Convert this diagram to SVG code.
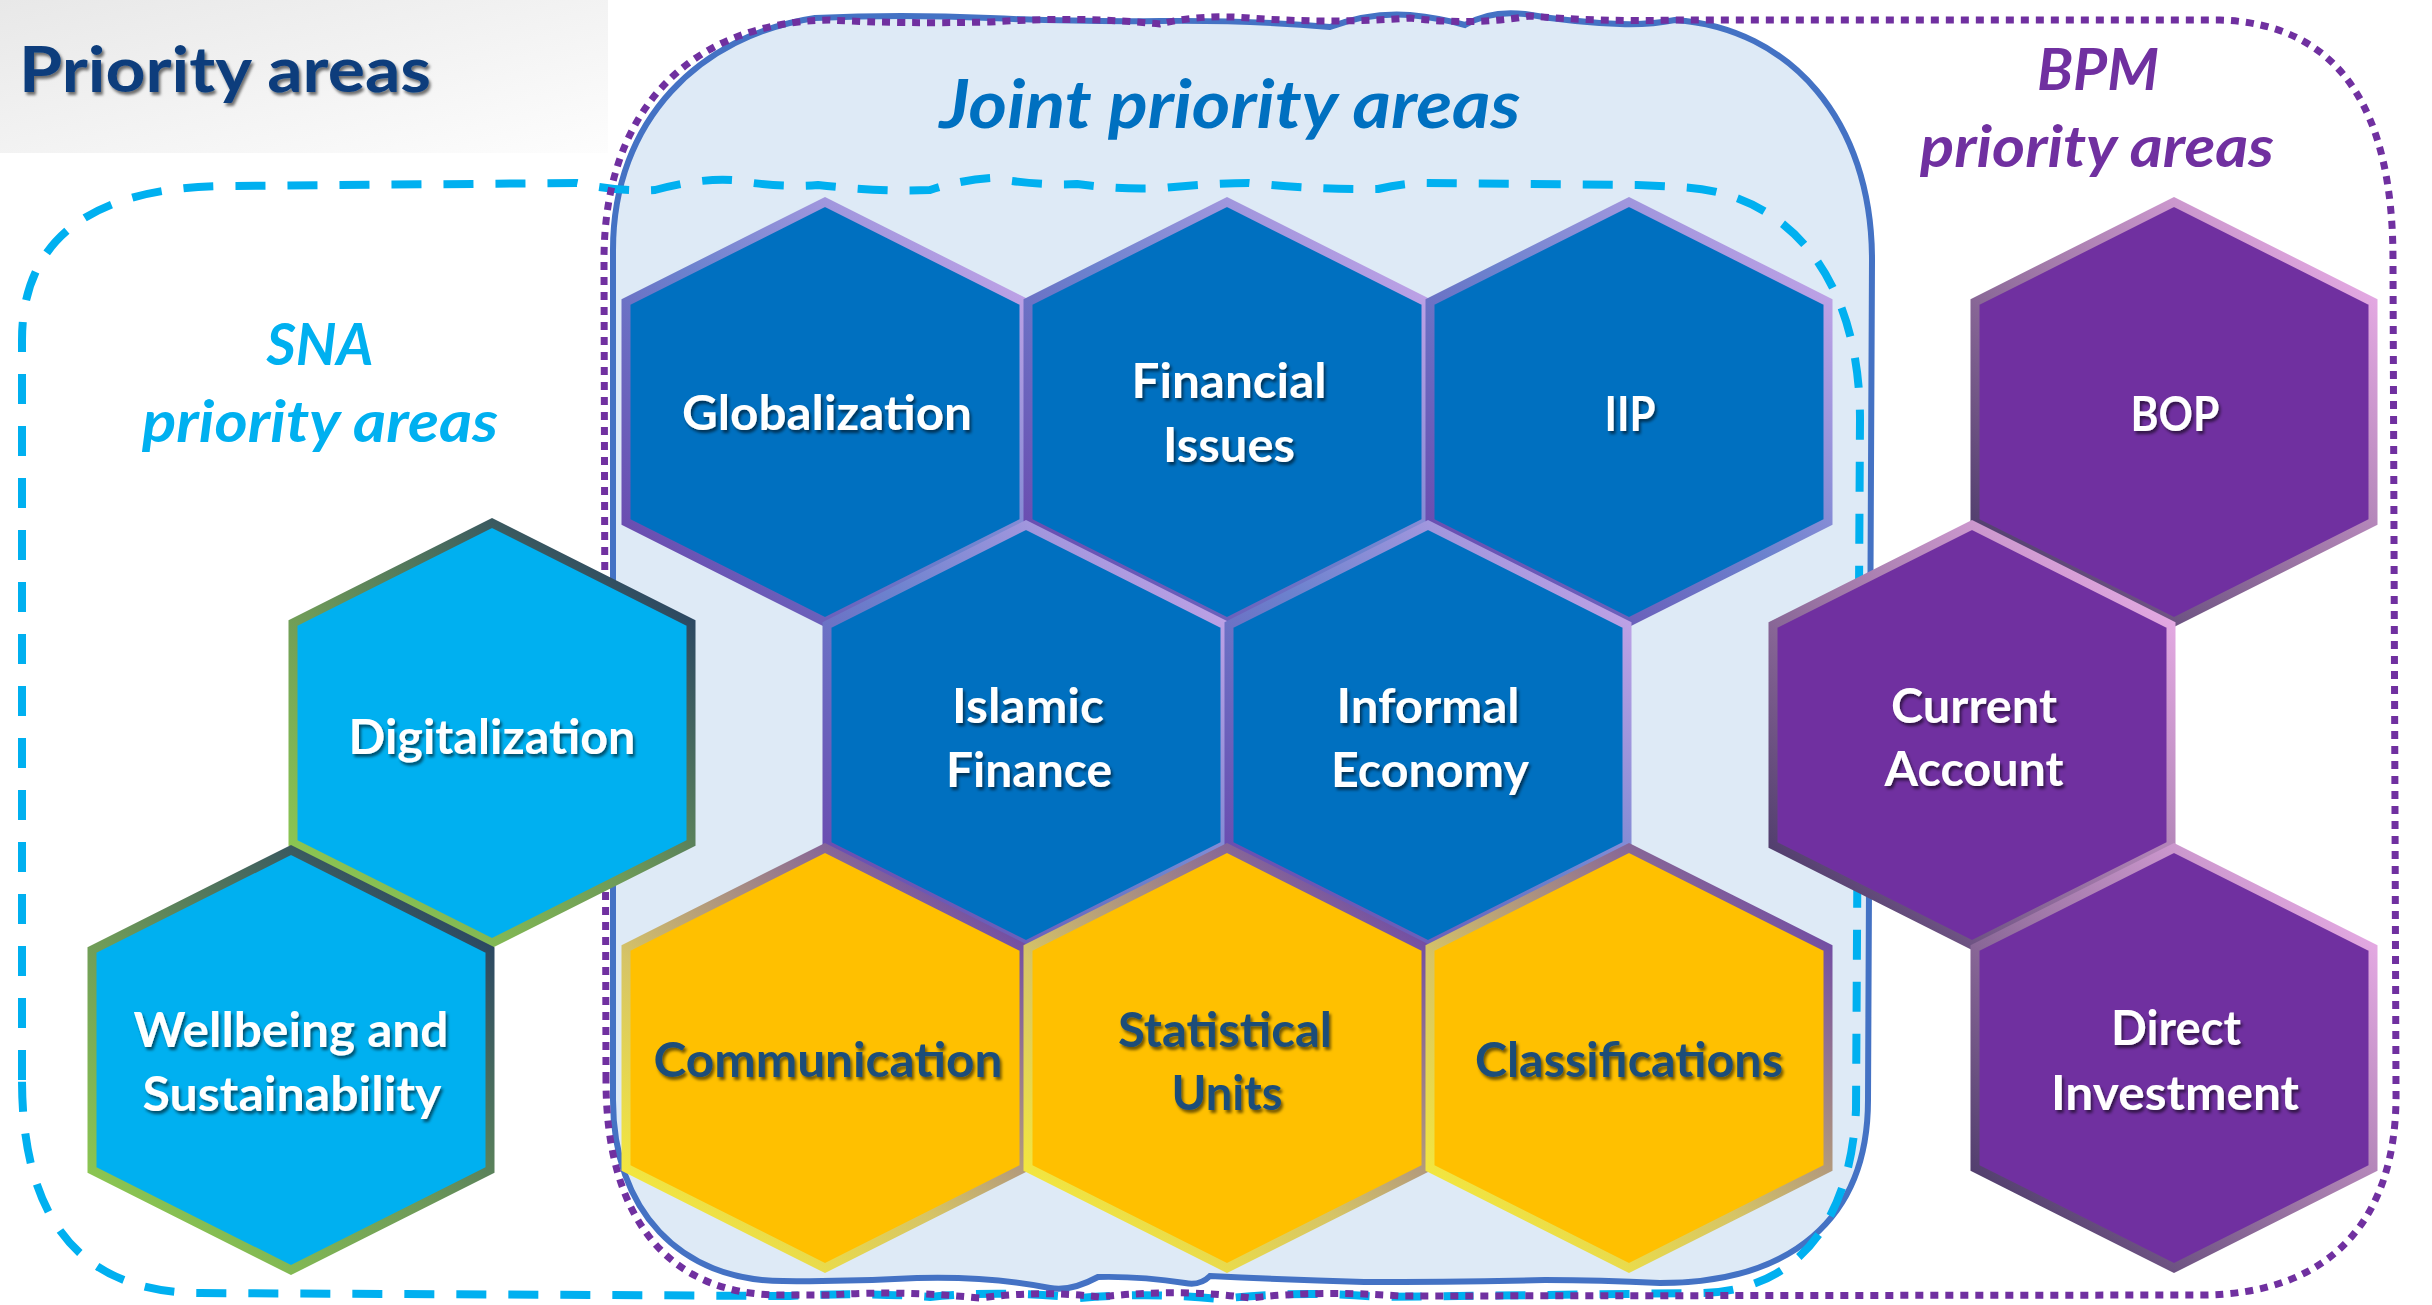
<svg xmlns="http://www.w3.org/2000/svg" xmlns:xlink="http://www.w3.org/1999/xlink" width="2432" height="1305" viewBox="0 0 2432 1305">
<defs>
  <linearGradient id="gTitleBg" x1="0" y1="0" x2="1" y2="1">
    <stop offset="0" stop-color="#E8E8E8"/>
    <stop offset="1" stop-color="#FDFDFD"/>
  </linearGradient>
  <linearGradient id="gJoint" x1="0" y1="1" x2="1" y2="0">
    <stop offset="0" stop-color="#6A3EA8"/>
    <stop offset="0.5" stop-color="#6C82CE"/>
    <stop offset="1" stop-color="#D4AAEC"/>
  </linearGradient>
  <linearGradient id="gYellow" x1="0" y1="1" x2="0.8" y2="0">
    <stop offset="0" stop-color="#FFF52E"/>
    <stop offset="0.45" stop-color="#D6C466"/>
    <stop offset="1" stop-color="#6B45A8"/>
  </linearGradient>
  <linearGradient id="gSna" x1="0.1" y1="1" x2="0.9" y2="0">
    <stop offset="0" stop-color="#92D050"/>
    <stop offset="0.45" stop-color="#6E9A58"/>
    <stop offset="1" stop-color="#1F3864"/>
  </linearGradient>
  <linearGradient id="gBpm" x1="0" y1="1" x2="1" y2="0">
    <stop offset="0" stop-color="#3C2E5E"/>
    <stop offset="0.5" stop-color="#A078A8"/>
    <stop offset="1" stop-color="#F6B6F2"/>
  </linearGradient>
  <filter id="shadow" x="-10%" y="-20%" width="120%" height="150%">
    <feDropShadow dx="2" dy="3" stdDeviation="1.5" flood-color="#000000" flood-opacity="0.55"/>
  </filter>
  <path id="hex" d="M0,-210 L199,-110 L199,110 L0,210 L-199,110 L-199,-110 Z"/>
  <style>
    .hex { stroke-width: 9; stroke-linejoin: miter; }
    .joint { fill: #0070C0; stroke: url(#gJoint); }
    .yellow { fill: #FFC000; stroke: url(#gYellow); }
    .sna { fill: #00B0F0; stroke: url(#gSna); }
    .bpm { fill: #7030A0; stroke: url(#gBpm); }
    .lbl { font-family: Lato, "Liberation Sans", sans-serif; font-weight: bold; font-size: 48px; text-anchor: middle; fill: #FFFFFF; filter: url(#shadow); }
    .lbl.dark { fill: #1F4E79; }
    .hdr { font-family: Lato, "Liberation Sans", sans-serif; font-weight: bold; font-style: italic; text-anchor: middle; }
  </style>
</defs>

<rect x="0" y="0" width="2432" height="1305" fill="#FFFFFF"/>
<rect x="0" y="0" width="608" height="153" fill="url(#gTitleBg)"/>
<text x="19" y="92" font-family="Lato, 'Liberation Sans', sans-serif" font-weight="bold" font-size="63" fill="#0B3D7C" textLength="412" lengthAdjust="spacingAndGlyphs" filter="url(#shadow)">Priority areas</text>

<g id="regions">
  <path id="joint-region" fill="#DEEAF6" stroke="#4472C4" stroke-width="6"
    d="M613,250 C613,120 700,35 815,18 Q900,14 990,18 Q1080,22 1160,21 Q1250,20 1330,27 Q1370,12 1410,15 Q1440,18 1465,25 Q1490,10 1525,14 Q1570,22 1620,24 Q1650,25 1675,20 C1790,28 1872,120 1872,260 L1868,1100 C1868,1220 1790,1283 1660,1283 Q1600,1280 1545,1280 Q1450,1282 1364,1282 Q1290,1280 1210,1276 Q1200,1286 1185,1283 Q1140,1276 1098,1277 Q1070,1292 1050,1288 Q990,1276 917,1278 Q850,1282 783,1281 C680,1281 613,1210 613,1100 Z"/>
  <path id="sna-region" fill="none" stroke="#00B0F0" stroke-width="8" stroke-dasharray="30 22"
    d="M22,1080 L22,340 C22,240 90,186 230,186 L577,183 Q620,192 655,190 Q700,178 732,180 Q780,188 818,185 Q880,192 930,190 Q960,180 991,178 Q1040,186 1077,184 Q1120,190 1163,188 Q1210,183 1249,183 Q1320,190 1378,189 Q1400,184 1421,183 L1637,185 Q1660,186 1680,187 C1790,192 1860,280 1860,420 L1856,1110 C1850,1230 1790,1292 1700,1293 L1380,1297 Q1300,1290 1220,1299 Q1150,1292 1080,1298 Q1000,1290 930,1297 Q860,1292 790,1296 L200,1293 C90,1293 22,1230 22,1080 Z"/>
  <path id="bpm-region" fill="none" stroke="#7030A0" stroke-width="7" stroke-dasharray="8 7"
    d="M606,1080 L604,260 C604,110 690,22 830,20 Q900,24 990,22 Q1080,16 1160,24 Q1200,14 1250,18 Q1330,24 1410,18 Q1470,26 1530,16 Q1600,22 1680,20 L2220,20 C2340,24 2393,110 2393,260 L2396,1090 C2398,1220 2330,1295 2200,1295 L1400,1296 Q1320,1290 1250,1298 Q1180,1288 1100,1297 Q1040,1290 980,1298 Q900,1290 830,1295 L780,1295 C670,1295 606,1220 606,1080 Z"/>
</g>

<g id="connectors"></g>

<text class="hdr" x="1230" y="128" font-size="67" fill="#0070C0" textLength="581" lengthAdjust="spacingAndGlyphs">Joint priority areas</text>
<text class="hdr" x="320" y="365" font-size="58" fill="#00B0F0" textLength="107" lengthAdjust="spacingAndGlyphs">SNA</text>
<text class="hdr" x="320" y="442" font-size="58" fill="#00B0F0" textLength="356" lengthAdjust="spacingAndGlyphs">priority areas</text>
<text class="hdr" x="2098" y="90" font-size="58" fill="#7030A0" textLength="122" lengthAdjust="spacingAndGlyphs">BPM</text>
<text class="hdr" x="2097" y="167" font-size="58" fill="#7030A0" textLength="354" lengthAdjust="spacingAndGlyphs">priority areas</text>

<g id="node-globalization">
  <use href="#hex" x="825" y="412" class="hex joint"/>
  <text class="lbl" x="827" y="430" textLength="290" lengthAdjust="spacingAndGlyphs">Globalization</text>
</g>
<g id="node-financial-issues">
  <use href="#hex" x="1227" y="412" class="hex joint"/>
  <text class="lbl" x="1229" y="398" textLength="195" lengthAdjust="spacingAndGlyphs">Financial</text>
  <text class="lbl" x="1229" y="462" textLength="132" lengthAdjust="spacingAndGlyphs">Issues</text>
</g>
<g id="node-iip">
  <use href="#hex" x="1629" y="412" class="hex joint"/>
  <text class="lbl" x="1630" y="431" textLength="51" lengthAdjust="spacingAndGlyphs">IIP</text>
</g>
<g id="node-islamic-finance">
  <use href="#hex" x="1026" y="735" class="hex joint"/>
  <text class="lbl" x="1028" y="723" textLength="152" lengthAdjust="spacingAndGlyphs">Islamic</text>
  <text class="lbl" x="1029" y="787" textLength="166" lengthAdjust="spacingAndGlyphs">Finance</text>
</g>
<g id="node-informal-economy">
  <use href="#hex" x="1428" y="735" class="hex joint"/>
  <text class="lbl" x="1428" y="723" textLength="183" lengthAdjust="spacingAndGlyphs">Informal</text>
  <text class="lbl" x="1430" y="787" textLength="198" lengthAdjust="spacingAndGlyphs">Economy</text>
</g>
<g id="node-communication">
  <use href="#hex" x="825" y="1058" class="hex yellow"/>
  <text class="lbl dark" x="828" y="1077" textLength="349" lengthAdjust="spacingAndGlyphs">Communication</text>
</g>
<g id="node-statistical-units">
  <use href="#hex" x="1227" y="1058" class="hex yellow"/>
  <text class="lbl dark" x="1225" y="1047" textLength="214" lengthAdjust="spacingAndGlyphs">Statistical</text>
  <text class="lbl dark" x="1227" y="1110" textLength="111" lengthAdjust="spacingAndGlyphs">Units</text>
</g>
<g id="node-classifications">
  <use href="#hex" x="1629" y="1058" class="hex yellow"/>
  <text class="lbl dark" x="1629" y="1077" textLength="308" lengthAdjust="spacingAndGlyphs">Classifications</text>
</g>
<g id="node-digitalization">
  <use href="#hex" x="492" y="733" class="hex sna"/>
  <text class="lbl" x="492" y="754" textLength="287" lengthAdjust="spacingAndGlyphs">Digitalization</text>
</g>
<g id="node-wellbeing">
  <use href="#hex" x="291" y="1060" class="hex sna"/>
  <text class="lbl" x="291" y="1047" textLength="315" lengthAdjust="spacingAndGlyphs">Wellbeing and</text>
  <text class="lbl" x="292" y="1111" textLength="299" lengthAdjust="spacingAndGlyphs">Sustainability</text>
</g>
<g id="node-bop">
  <use href="#hex" x="2174" y="412" class="hex bpm"/>
  <text class="lbl" x="2175" y="431" textLength="89" lengthAdjust="spacingAndGlyphs">BOP</text>
</g>
<g id="node-current-account">
  <use href="#hex" x="1972" y="735" class="hex bpm"/>
  <text class="lbl" x="1974" y="723" textLength="166" lengthAdjust="spacingAndGlyphs">Current</text>
  <text class="lbl" x="1974" y="786" textLength="179" lengthAdjust="spacingAndGlyphs">Account</text>
</g>
<g id="node-direct-investment">
  <use href="#hex" x="2174" y="1058" class="hex bpm"/>
  <text class="lbl" x="2176" y="1045" textLength="130" lengthAdjust="spacingAndGlyphs">Direct</text>
  <text class="lbl" x="2175" y="1110" textLength="248" lengthAdjust="spacingAndGlyphs">Investment</text>
</g>
</svg>
